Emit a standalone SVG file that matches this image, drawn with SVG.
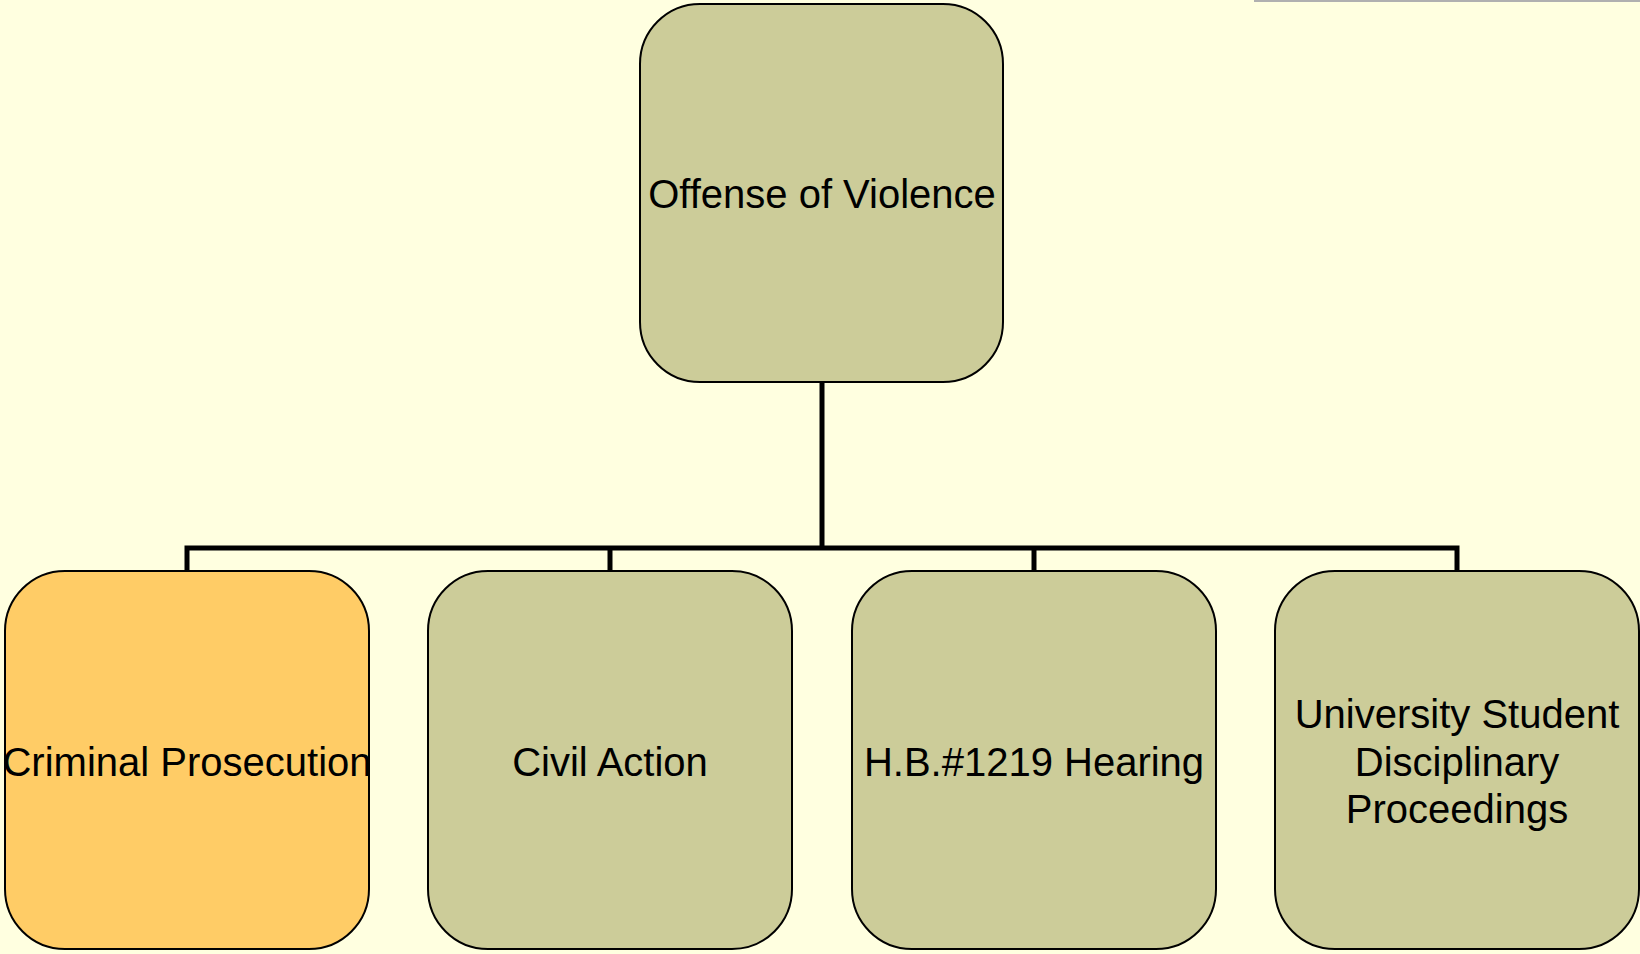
<svg xmlns="http://www.w3.org/2000/svg" width="1640" height="954" viewBox="0 0 1640 954">
<style>
.node{fill:#CCCC99;stroke:#000;stroke-width:2}
.hl{fill:#FFCC66}
.lbl{font-family:"Liberation Sans",Arial,sans-serif;font-size:40px;fill:#000;text-anchor:middle}
.conn{fill:none;stroke:#000;stroke-width:5}
</style>
<rect width="1640" height="954" fill="#FFFFE0"/>
<line x1="1254" y1="1" x2="1640" y2="1" stroke="#B0B0B0" stroke-width="2"/>
<g id="connectors">
<path class="conn" d="M822 382 V548"/>
<path class="conn" d="M187 571 V548 H1457 V571"/>
<path class="conn" d="M610 548 V571"/>
<path class="conn" d="M1034 548 V571"/>
</g>
<g id="offense">
<rect class="node" x="640" y="4" width="363" height="378" rx="60" ry="60"/>
<text class="lbl" x="822" y="208">Offense of Violence</text>
</g>
<g id="criminal">
<rect class="node hl" x="5" y="571" width="364" height="378" rx="60" ry="60"/>
<text class="lbl" x="187" y="776">Criminal Prosecution</text>
</g>
<g id="civil">
<rect class="node" x="428" y="571" width="364" height="378" rx="60" ry="60"/>
<text class="lbl" x="610" y="776">Civil Action</text>
</g>
<g id="hb1219">
<rect class="node" x="852" y="571" width="364" height="378" rx="60" ry="60"/>
<text class="lbl" x="1034" y="776">H.B.#1219 Hearing</text>
</g>
<g id="university">
<rect class="node" x="1275" y="571" width="364" height="378" rx="60" ry="60"/>
<text class="lbl" x="1457" y="728">University Student</text>
<text class="lbl" x="1457" y="776">Disciplinary</text>
<text class="lbl" x="1457" y="823">Proceedings</text>
</g>
</svg>
